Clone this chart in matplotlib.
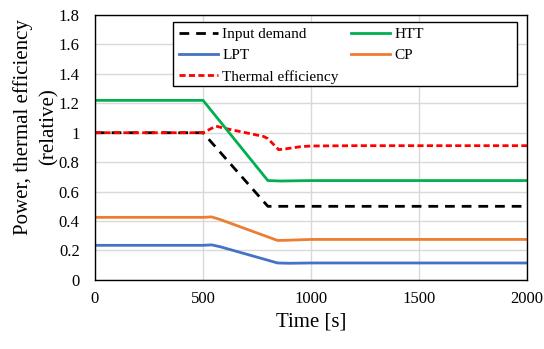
import matplotlib.pyplot as plt
from matplotlib.patches import Rectangle

plt.rcParams['font.family'] = ['Liberation Serif', 'DejaVu Serif']

# data
t_demand = [0, 500, 800, 2000]
demand = [1.0, 1.0, 0.5, 0.5]

t_htt = [0, 500, 800, 860, 1000, 2000]
htt = [1.22, 1.22, 0.675, 0.672, 0.675, 0.675]

t_lpt = [0, 500, 540, 580, 845, 900, 1000, 2000]
lpt = [0.235, 0.235, 0.238, 0.225, 0.115, 0.113, 0.115, 0.115]

t_cp = [0, 500, 540, 580, 845, 900, 1000, 2000]
cp = [0.425, 0.425, 0.428, 0.41, 0.268, 0.27, 0.275, 0.275]

t_eff = [0, 500, 560, 600, 780, 800, 850, 880, 950, 1000, 1200, 2000]
eff = [1.0, 1.0, 1.045, 1.03, 0.975, 0.96, 0.885, 0.89, 0.905, 0.91, 0.912, 0.912]

fig = plt.figure(figsize=(5.44, 3.49), dpi=100)
ax = fig.add_axes([0.1746, 0.198, 0.7944, 0.759])

ax.plot(t_demand, demand, color='black', lw=2, ls=(0, (3.5, 2.5)), label='Input demand')
ax.plot(t_lpt, lpt, color='#4472C4', lw=2, label='LPT')
ax.plot(t_eff, eff, color='#FF0000', lw=2, ls=(0, (2.2, 1.2)), label='Thermal efficiency')
ax.plot(t_htt, htt, color='#00B050', lw=2, label='HTT')
ax.plot(t_cp, cp, color='#ED7D31', lw=2, label='CP')

ax.set_xlim(0, 2000)
ax.set_ylim(0, 1.8)
ax.set_xticks([0, 500, 1000, 1500, 2000])
ax.set_yticks([0, 0.2, 0.4, 0.6, 0.8, 1.0, 1.2, 1.4, 1.6, 1.8])
ax.set_yticklabels(['0', '0.2', '0.4', '0.6', '0.8', '1', '1.2', '1.4', '1.6', '1.8'])
ax.tick_params(labelsize=12, length=0)
ax.tick_params(axis='y', pad=11)
ax.tick_params(axis='x', pad=8)
ax.grid(True, color='#D9D9D9', lw=1)
ax.set_axisbelow(True)
for s in ax.spines.values():
    s.set_color('black')
    s.set_linewidth(1)

ax.set_xlabel('Time [s]', fontsize=15, labelpad=4)
ax.set_ylabel('Power, thermal efficiency\n(relative)', fontsize=15, linespacing=1.45)
ax.yaxis.set_label_coords(-0.085, 0.577)

# legend box drawn separately so it can be wider than its entries
ax.add_patch(Rectangle((0.181, 0.732), 0.796, 0.242, transform=ax.transAxes,
                       facecolor='white', edgecolor='black', lw=1, zorder=4.9))
leg = ax.legend(ncol=2, loc='upper left', bbox_to_anchor=(0.181, 0.974), fontsize=11,
                frameon=False, borderpad=0.35, labelspacing=0.5, handlelength=2.6,
                handletextpad=0.25, columnspacing=0.8, borderaxespad=0)
leg.set_zorder(5)

fig.savefig('out.png', dpi=100)
